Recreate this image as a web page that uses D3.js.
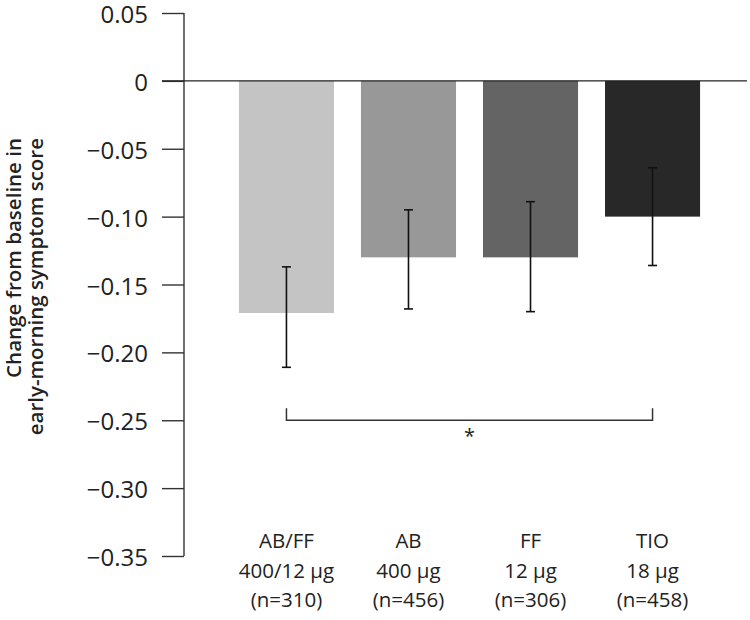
<!DOCTYPE html>
<html>
<head>
<meta charset="utf-8">
<script src="https://cdn.jsdelivr.net/npm/d3@7"></script>
<style>
  html, body { margin: 0; padding: 0; background: #fff; }
  svg { display: block; }
  text { font-family: "Open Sans", "Noto Sans", sans-serif; fill: #222; }
</style>
</head>
<body>
<svg id="chart" width="750" height="620"></svg>
<script>
// ---- data ----
const categories = ["AB/FF", "AB", "FF", "TIO"];
const doseLabels = ["400/12 μg", "400 μg", "12 μg", "18 μg"];
const nLabels = ["(n=310)", "(n=456)", "(n=306)", "(n=458)"];
const values = [-0.171, -0.130, -0.130, -0.100];
const errorUpper = [-0.137, -0.095, -0.089, -0.064];
const errorLower = [-0.211, -0.168, -0.170, -0.136];
const barColors = ["#c4c4c4", "#989898", "#646464", "#282828"];
const yTickValues = [0.05, 0, -0.05, -0.10, -0.15, -0.20, -0.25, -0.30, -0.35];
const yTickLabels = ["0.05", "0", "\u22120.05", "\u22120.10", "\u22120.15", "\u22120.20", "\u22120.25", "\u22120.30", "\u22120.35"];
const yTitleLines = ["Change from baseline in", "early-morning symptom score"];
const significance = { from: "AB/FF", to: "TIO", level: -0.25, label: "*" };

// ---- layout ----
const svg = d3.select("#chart");
const axisX = 184;

const y = d3.scaleLinear().domain([-0.35, 0.05]).range([556, 13]);
const x = d3.scaleBand().domain(categories).range([225.5, 713.5])
  .paddingInner(0.221).paddingOuter(0.11);

// y axis
const yAxis = d3.axisLeft(y)
  .tickValues(yTickValues)
  .tickSize(22)
  .tickPadding(14)
  .tickFormat((d, i) => yTickLabels[i]);

const gy = svg.append("g").attr("transform", `translate(${axisX},0)`).call(yAxis);
gy.select(".domain").remove();
gy.selectAll(".tick line").attr("stroke", "#333").attr("stroke-width", 1.4);
gy.selectAll(".tick text")
  .attr("dy", "0.4em")
  .style("font-size", "24px")
  .style("font-family", "'Open Sans', sans-serif")
  .attr("fill", "#2a2a2a");

// vertical axis line
svg.append("line")
  .attr("x1", axisX).attr("x2", axisX)
  .attr("y1", y(0.05)).attr("y2", y(-0.35))
  .attr("stroke", "#333").attr("stroke-width", 1.4);

// bars
svg.append("g").selectAll("rect")
  .data(categories)
  .join("rect")
  .attr("x", d => x(d))
  .attr("width", x.bandwidth())
  .attr("y", y(0))
  .attr("height", (d, i) => y(values[i]) - y(0))
  .attr("fill", (d, i) => barColors[i]);

// zero line
svg.append("line")
  .attr("x1", axisX - 22).attr("x2", 747)
  .attr("y1", y(0)).attr("y2", y(0))
  .attr("stroke", "#222").attr("stroke-width", 1.4);

// error bars
const eg = svg.append("g").attr("stroke", "#111").attr("stroke-width", 1.6);
categories.forEach((c, i) => {
  const cx = x(c) + x.bandwidth() / 2;
  eg.append("line").attr("x1", cx).attr("x2", cx)
    .attr("y1", y(errorUpper[i])).attr("y2", y(errorLower[i]));
  [errorUpper[i], errorLower[i]].forEach(v => {
    eg.append("line").attr("x1", cx - 4.5).attr("x2", cx + 4.5)
      .attr("y1", y(v)).attr("y2", y(v));
  });
});

// significance bracket
const bx1 = x(significance.from) + x.bandwidth() / 2;
const bx2 = x(significance.to) + x.bandwidth() / 2;
const by = y(significance.level);
svg.append("path")
  .attr("d", `M${bx1},${by - 12}V${by}H${bx2}V${by - 12}`)
  .attr("fill", "none").attr("stroke", "#333").attr("stroke-width", 1.5);
svg.append("text")
  .attr("x", (bx1 + bx2) / 2).attr("y", by + 23)
  .attr("text-anchor", "middle")
  .style("font-size", "20px")
  .text(significance.label);

// category labels
const lg = svg.append("g");
categories.forEach((c, i) => {
  const cx = x(c) + x.bandwidth() / 2;
  const t = lg.append("text").attr("text-anchor", "middle").style("font-size", "20.5px");
  [c, doseLabels[i], nLabels[i]].forEach((s, j) => {
    t.append("tspan").attr("x", cx).attr("y", 548 + j * 29.5).text(s);
  });
});

// y title
yTitleLines.forEach((s, i) => {
  svg.append("text")
    .attr("transform", `translate(${21 + i * 22},138) rotate(-90)`)
    .attr("text-anchor", "end")
    .style("font-size", "20.5px")
    .style("font-weight", "600")
    .text(s);
});
</script>
</body>
</html>
